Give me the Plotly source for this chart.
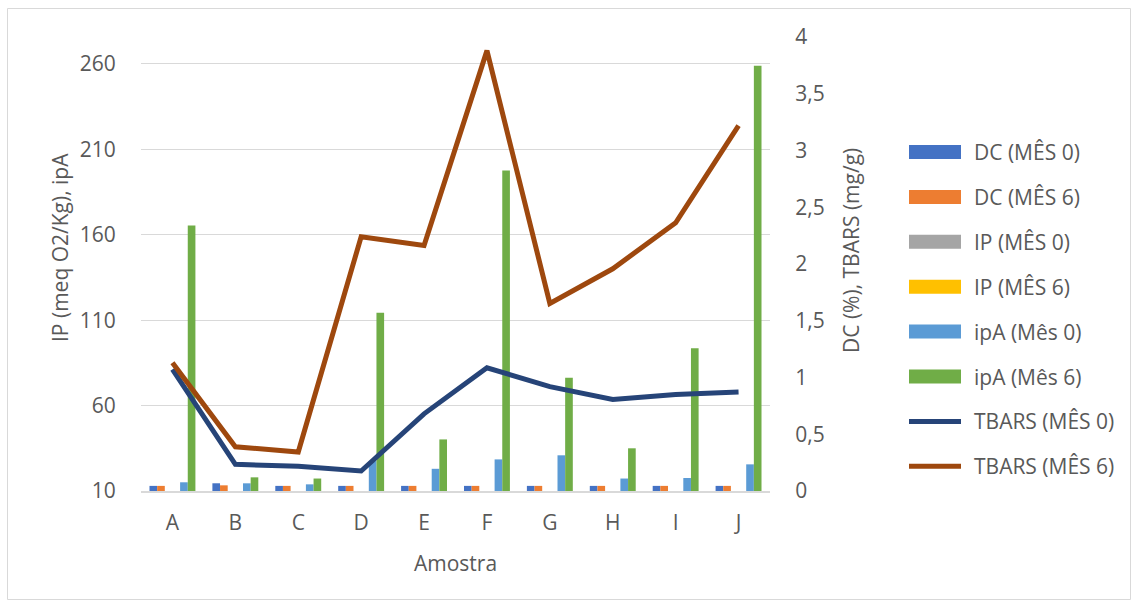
import plotly.graph_objects as go

# Sample categories
amostras = ["A", "B", "C", "D", "E", "F", "G", "H", "I", "J"]

# Conjugated dienes (%), secondary axis
dc_mes0 = [0.045, 0.068, 0.045, 0.045, 0.045, 0.045, 0.045, 0.045, 0.045, 0.045]
dc_mes6 = [0.045, 0.050, 0.045, 0.045, 0.045, 0.045, 0.045, 0.045, 0.045, 0.045]

# Peroxide index (meq O2/Kg), primary axis (below the axis minimum)
ip_mes0 = [None, None, None, None, None, None, None, None, None, None]
ip_mes6 = [None, None, None, None, None, None, None, None, None, None]

# Anisidine index, primary axis
ipa_mes0 = [15.1, 14.5, 13.9, 27.5, 23.0, 28.5, 30.9, 17.3, 17.6, 25.6]
ipa_mes6 = [165.4, 18.0, 17.3, 114.3, 40.2, 197.7, 76.3, 35.0, 93.6, 259.0]

# TBARS (mg/g), secondary axis
tbars_mes0 = [1.071, 0.235, 0.217, 0.176, 0.680, 1.086, 0.919, 0.807, 0.851, 0.872]
tbars_mes6 = [1.130, 0.390, 0.343, 2.240, 2.163, 3.880, 1.652, 1.958, 2.363, 3.220]

left_ticks = [10, 60, 110, 160, 210, 260]
right_ticks = [0, 0.5, 1, 1.5, 2, 2.5, 3, 3.5, 4]

W, H = 1138, 607
ML, MR, MT, MB = 141, 368, 37, 116
TXT = "#595959"
GRID = "#D9D9D9"
FONT = "Open Sans"
FS = 21


def px(x):
    return (x - ML) / (W - ML - MR)


def py(y):
    return (H - MB - y) / (H - MT - MB)


series = [
    ("DC (MÊS 0)", dc_mes0, "#4472C4", "y2", "bar"),
    ("DC (MÊS 6)", dc_mes6, "#ED7D31", "y2", "bar"),
    ("IP (MÊS 0)", ip_mes0, "#A5A5A5", "y", "bar"),
    ("IP (MÊS 6)", ip_mes6, "#FFC000", "y", "bar"),
    ("ipA (Mês 0)", ipa_mes0, "#5B9BD5", "y", "bar"),
    ("ipA (Mês 6)", ipa_mes6, "#70AD47", "y", "bar"),
    ("TBARS (MÊS 0)", tbars_mes0, "#264478", "y2", "line"),
    ("TBARS (MÊS 6)", tbars_mes6, "#9E480E", "y2", "line"),
]

fig = go.Figure()
group = 0
for name, vals, color, axis, kind in series:
    if kind == "bar":
        group += 1
        fig.add_trace(go.Bar(
            x=amostras, y=vals, name=name, marker_color=color,
            marker_line_width=0, yaxis=axis, offsetgroup=str(group),
            showlegend=False,
        ))
    else:
        fig.add_trace(go.Scatter(
            x=amostras, y=vals, name=name, mode="lines",
            line=dict(color=color, width=5), yaxis=axis,
            showlegend=False,
        ))

shapes = [
    # chart border
    dict(type="rect", xref="paper", yref="paper",
         x0=px(7.5), x1=px(1130.5), y0=py(8.5), y1=py(599.5),
         line=dict(color=GRID, width=1), layer="below"),
]
annotations = []

# Legend drawn at the right of the plot
leg_y0, leg_dy = 152, 44.9
for i, (name, vals, color, axis, kind) in enumerate(series):
    yc = leg_y0 + i * leg_dy
    if kind == "bar":
        shapes.append(dict(type="rect", xref="paper", yref="paper",
                           x0=px(909), x1=px(961), y0=py(yc - 7), y1=py(yc + 7),
                           fillcolor=color, line=dict(width=0)))
    else:
        shapes.append(dict(type="line", xref="paper", yref="paper",
                           x0=px(909), x1=px(961), y0=py(yc), y1=py(yc),
                           line=dict(color=color, width=5)))
    annotations.append(dict(text=name, xref="paper", yref="paper",
                            x=px(972), y=py(yc), xanchor="left", yanchor="middle",
                            showarrow=False, font=dict(family=FONT, size=FS, color=TXT)))

# Axis titles
annotations += [
    dict(text="IP (meq O2/Kg), ipA", xref="paper", yref="paper",
         x=px(60), y=py(248), textangle=-90, showarrow=False,
         xanchor="center", yanchor="middle",
         font=dict(family=FONT, size=FS, color=TXT)),
    dict(text="DC (%), TBARS (mg/g)", xref="paper", yref="paper",
         x=px(851), y=py(251), textangle=-90, showarrow=False,
         xanchor="center", yanchor="middle",
         font=dict(family=FONT, size=FS, color=TXT)),
    dict(text="Amostra", xref="paper", yref="paper",
         x=px(455), y=py(563), showarrow=False,
         xanchor="center", yanchor="middle",
         font=dict(family=FONT, size=FS, color=TXT)),
]

fig.update_layout(
    width=W, height=H,
    margin=dict(l=ML, r=MR, t=MT, b=MB, pad=0),
    paper_bgcolor="white", plot_bgcolor="white",
    barmode="group", bargap=0.27, bargroupgap=0,
    separators=",.",
    showlegend=False,
    font=dict(family=FONT, size=FS, color=TXT),
    shapes=shapes, annotations=annotations,
    xaxis=dict(
        showline=True, linecolor=GRID, linewidth=1.5,
        showgrid=False, zeroline=False,
        ticks="outside", ticklen=12, tickcolor="rgba(0,0,0,0)",
        tickfont=dict(family=FONT, size=FS, color=TXT),
    ),
    yaxis=dict(
        range=[10, 275.8], tickvals=left_ticks,
        showgrid=True, gridcolor=GRID, gridwidth=1,
        zeroline=False, showline=False,
        ticks="outside", ticklen=20, tickcolor="rgba(0,0,0,0)",
        tickfont=dict(family=FONT, size=FS, color=TXT),
    ),
    yaxis2=dict(
        range=[0, 4], tickvals=right_ticks, overlaying="y", side="right",
        showgrid=False, zeroline=False, showline=False,
        ticks="outside", ticklen=20, tickcolor="rgba(0,0,0,0)",
        tickfont=dict(family=FONT, size=FS, color=TXT),
    ),
)

fig.write_html("out.html")
